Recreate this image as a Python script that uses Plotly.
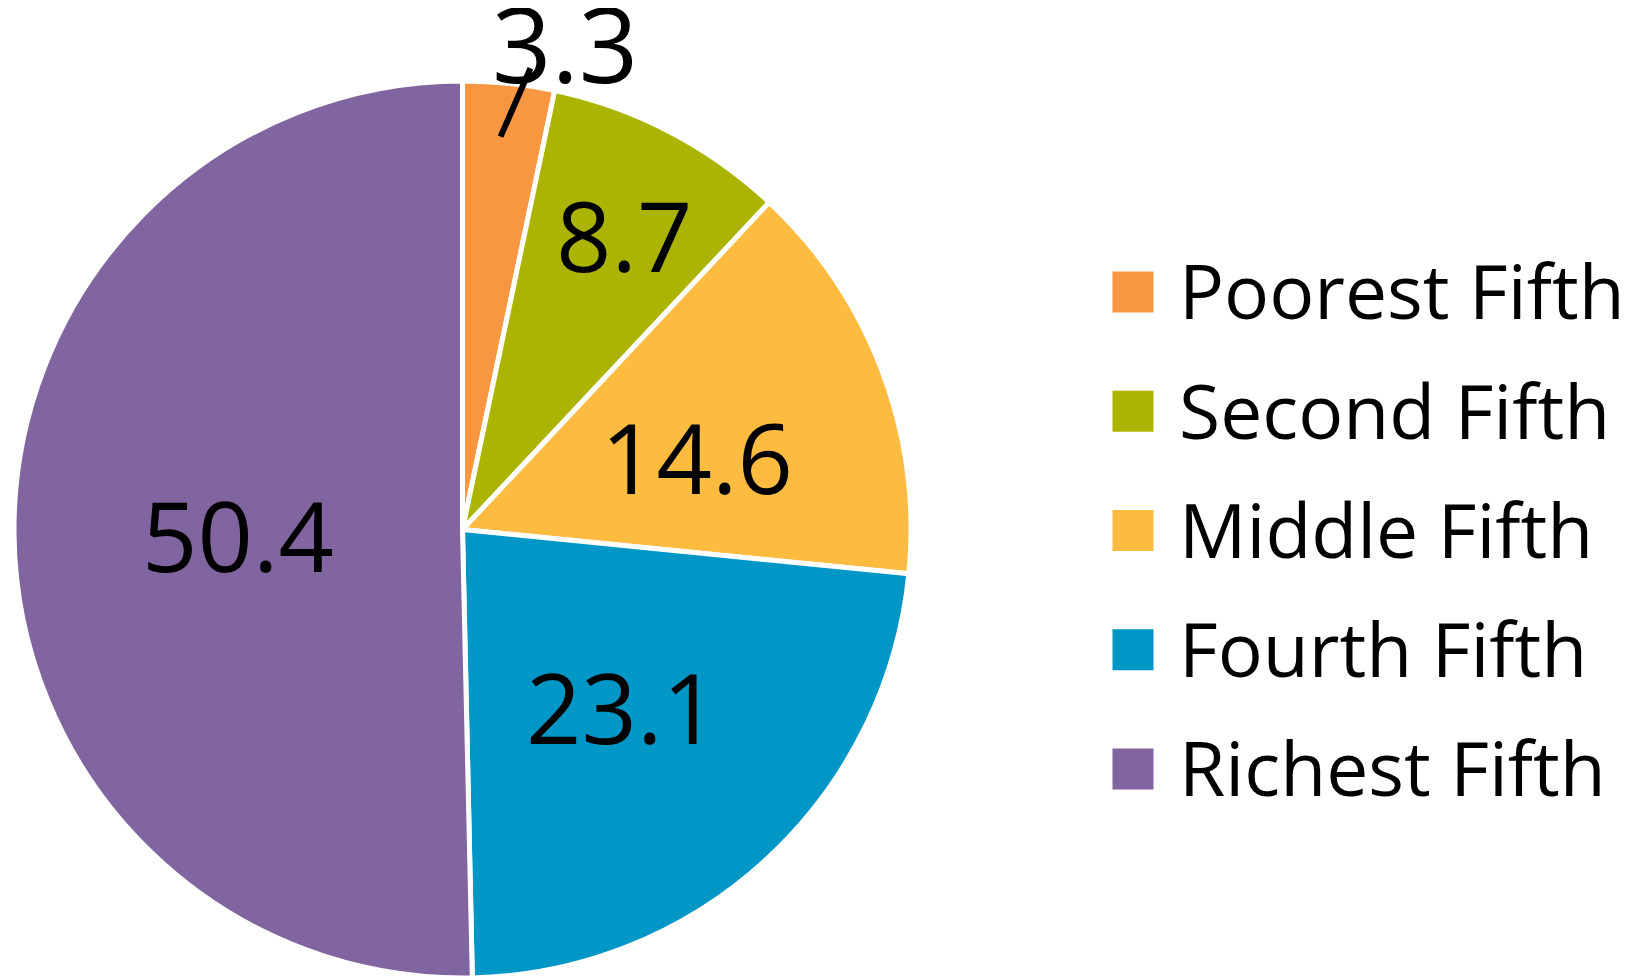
import math
import plotly.graph_objects as go

categories = ["Poorest Fifth", "Second Fifth", "Middle Fifth", "Fourth Fifth", "Richest Fifth"]
shares = [3.3, 8.7, 14.6, 23.1, 50.4]
share_labels = ["3.3", "8.7", "14.6", "23.1", "50.4"]
colors = ["#F99641", "#ABB400", "#FDBB40", "#0097C6", "#8065A0"]

W, H = 1637, 978
FONT = "Open Sans"
OFF = 8  # page body margin offset

# pie geometry (pixels, figure coordinates)
PIE_L, PIE_R = 14 - OFF, 911 - OFF
PIE_B, PIE_T = OFF, 897 + OFF          # measured from bottom
cx_px = (PIE_L + PIE_R) / 2
cy_px = (PIE_B + PIE_T) / 2
r_px = (PIE_R - PIE_L) / 2

# label placement style (radius fraction, angle shift in degrees, vertical px shift)
LABEL_RFRAC = [1.107, 0.74, 0.545, 0.54, 0.50]
LABEL_DANG = [6.0, 1.7, 4.4, 1.6, -1.4]
LABEL_YSHIFT = [1, 6, 5, 6, 3]
LABEL_SIZE = [104, 97, 97, 97, 97]

fig = go.Figure()

fig.add_trace(go.Pie(
    labels=categories,
    values=shares,
    textinfo="none",
    sort=False,
    direction="clockwise",
    rotation=0,
    marker=dict(colors=colors, line=dict(color="white", width=5)),
    domain=dict(x=[PIE_L / W, PIE_R / W], y=[PIE_B / H, PIE_T / H]),
    showlegend=False,
    hoverinfo="label+value",
))

total = sum(shares)
cum = 0.0
mids = []
for v in shares:
    mids.append(360 * (cum + v / 2) / total)
    cum += v


def polar_px(radius_frac, angle_deg):
    a = math.radians(angle_deg)
    x = cx_px + r_px * radius_frac * math.sin(a)
    y = cy_px + r_px * radius_frac * math.cos(a)
    return x, y


for i, lab in enumerate(share_labels):
    lx, ly = polar_px(LABEL_RFRAC[i], mids[i] + LABEL_DANG[i])
    fig.add_annotation(x=lx / W, y=ly / H, xref="paper", yref="paper", text=lab,
                       showarrow=False, xanchor="center", yanchor="middle",
                       yshift=LABEL_YSHIFT[i],
                       font=dict(family=FONT, size=LABEL_SIZE[i], color="black"))

# leader line for the smallest slice
hx, hy = polar_px(0.88, mids[0] - 0.4)
tx, ty = polar_px(1.043, mids[0] + 2.5)
fig.add_annotation(x=hx / W, y=hy / H, xref="paper", yref="paper",
                   ax=tx - hx, ay=-(ty - hy), axref="pixel", ayref="pixel",
                   text="", showarrow=True, arrowhead=0, arrowwidth=6,
                   arrowcolor="black", font=dict(size=1))

# legend built as scatter traces on hidden axes
XD0 = 1064 - OFF
XW = W - XD0
ROW_STEP = 119.25
TEXT_DROP = 8.5  # px, to centre cap height on the swatch
fig.add_trace(go.Scatter(
    x=[0] * len(categories),
    y=categories,
    mode="markers",
    marker=dict(symbol="square", size=41, color=colors, line=dict(width=0)),
    showlegend=False,
    hoverinfo="skip",
    xaxis="x", yaxis="y",
))
fig.add_trace(go.Scatter(
    x=[46 / XW] * len(categories),
    y=categories,
    mode="text",
    text=categories,
    textposition="middle right",
    textfont=dict(family=FONT, size=75, color="black"),
    showlegend=False,
    hoverinfo="skip",
    xaxis="x", yaxis="y2",
))

y_lo = 4 + (H - (769 - OFF)) / ROW_STEP
y_hi = -(292 - OFF) / ROW_STEP
d = TEXT_DROP / ROW_STEP
fig.update_layout(
    width=W, height=H,
    margin=dict(l=0, r=0, t=0, b=0, pad=0, autoexpand=False),
    paper_bgcolor="white",
    plot_bgcolor="rgba(0,0,0,0)",
    xaxis=dict(domain=[XD0 / W, 1.0], range=[-69 / XW, (XW - 69) / XW],
               visible=False, fixedrange=True),
    yaxis=dict(domain=[0, 1], type="category",
               categoryorder="array", categoryarray=categories,
               range=[y_lo, y_hi], visible=False, fixedrange=True),
    yaxis2=dict(domain=[0, 1], type="category", overlaying="y",
                categoryorder="array", categoryarray=categories,
                range=[y_lo - d, y_hi - d], visible=False, fixedrange=True),
)

fig.write_html("out.html")
